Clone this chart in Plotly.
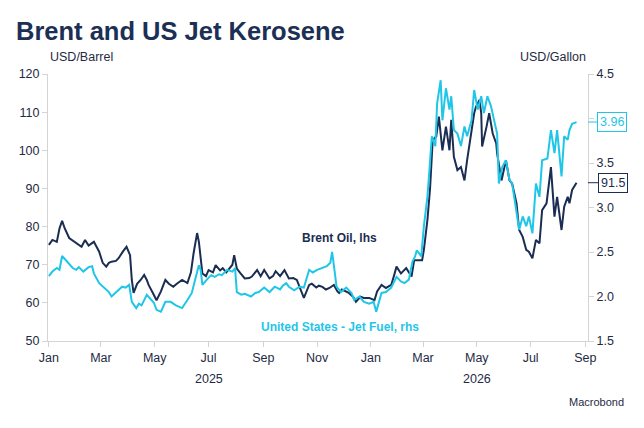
import plotly.graph_objects as go

navy = "#1b2d52"
cyan = "#1fc6e8"
axis_grey = "#d4d4d4"
font_family = "Liberation Sans, Arial, sans-serif"

brent_dates = [
    "2025-01-01", "2025-01-05", "2025-01-10", "2025-01-13", "2025-01-16", "2025-01-19",
    "2025-01-24", "2025-01-27", "2025-02-02", "2025-02-07", "2025-02-11", "2025-02-15",
    "2025-02-21", "2025-02-27", "2025-03-03", "2025-03-07", "2025-03-10", "2025-03-13",
    "2025-03-18", "2025-03-21", "2025-03-26", "2025-03-30", "2025-04-03", "2025-04-05",
    "2025-04-07", "2025-04-11", "2025-04-15", "2025-04-19", "2025-04-22", "2025-04-24",
    "2025-04-29", "2025-05-03", "2025-05-08", "2025-05-13", "2025-05-17", "2025-05-22",
    "2025-05-26", "2025-06-01", "2025-06-07", "2025-06-11", "2025-06-14", "2025-06-18",
    "2025-06-20", "2025-06-24", "2025-06-28", "2025-07-01", "2025-07-06", "2025-07-09",
    "2025-07-14", "2025-07-17", "2025-07-21", "2025-07-24", "2025-07-28", "2025-07-30",
    "2025-08-02", "2025-08-06", "2025-08-11", "2025-08-16", "2025-08-19", "2025-08-25",
    "2025-08-29", "2025-09-02", "2025-09-08", "2025-09-12", "2025-09-15", "2025-09-20",
    "2025-09-25", "2025-09-30", "2025-10-05", "2025-10-09", "2025-10-14", "2025-10-17",
    "2025-10-23", "2025-10-26", "2025-10-31", "2025-11-03", "2025-11-07", "2025-11-11",
    "2025-11-15", "2025-11-20", "2025-11-24", "2025-11-26", "2025-11-29", "2025-12-04",
    "2025-12-07", "2025-12-12", "2025-12-15", "2025-12-20", "2025-12-24", "2025-12-30",
    "2026-01-02", "2026-01-05", "2026-01-08", "2026-01-13", "2026-01-18", "2026-01-24",
    "2026-01-27", "2026-01-30", "2026-02-04", "2026-02-10", "2026-02-16", "2026-02-19",
    "2026-02-25", "2026-02-28", "2026-03-02", "2026-03-06", "2026-03-09", "2026-03-12",
    "2026-03-16", "2026-03-19", "2026-03-23", "2026-03-27", "2026-03-31", "2026-04-02",
    "2026-04-05", "2026-04-09", "2026-04-13", "2026-04-17", "2026-04-20", "2026-04-25",
    "2026-04-28", "2026-04-30", "2026-05-04", "2026-05-06", "2026-05-07", "2026-05-12",
    "2026-05-15", "2026-05-19", "2026-05-23", "2026-05-24", "2026-05-29", "2026-06-03",
    "2026-06-07", "2026-06-10", "2026-06-15", "2026-06-18", "2026-06-22", "2026-06-26",
    "2026-06-29", "2026-07-03", "2026-07-07", "2026-07-11", "2026-07-14", "2026-07-19",
    "2026-07-24", "2026-07-28", "2026-07-31", "2026-08-05", "2026-08-08", "2026-08-12",
    "2026-08-14", "2026-08-17", "2026-08-22",
]
brent_usd_bbl = [
    75.2, 76.5, 76.0, 79.5, 81.5, 79.5,
    77.0, 76.5, 75.5, 74.7, 76.5, 75.0,
    76.0, 73.4, 70.5, 69.5, 70.5, 70.8,
    71.0, 71.7, 73.5, 74.7, 72.5, 66.0,
    62.6, 65.0, 66.0, 67.3, 66.0, 64.7,
    62.5, 60.7, 63.0, 66.0, 65.0, 64.2,
    65.0, 66.0, 65.2, 68.0, 73.0, 78.3,
    76.0, 67.7, 67.0, 68.6, 68.0, 69.9,
    68.5, 69.1, 68.0, 69.0, 70.0, 72.5,
    69.0, 67.8, 66.4, 66.5, 66.9, 68.6,
    67.0, 68.6, 66.4, 67.0, 68.3, 67.0,
    68.6, 66.4, 66.5, 66.0, 63.0, 61.3,
    64.7, 65.0, 64.0, 64.5, 64.2, 63.5,
    63.9, 64.7, 63.0, 62.6, 63.5, 62.9,
    62.6, 61.5, 60.3, 61.6, 61.3, 61.3,
    61.0, 60.7, 63.0, 64.7, 63.9, 64.7,
    67.0, 69.5, 67.7, 69.1, 66.9, 71.2,
    71.2, 71.2, 73.9, 81.7, 90.0, 102.7,
    103.6, 108.8, 100.0, 106.2, 100.0, 108.0,
    98.3, 94.8, 95.6, 92.1, 97.4, 105.3,
    109.7, 111.4, 113.2, 109.7, 101.0, 106.2,
    109.7, 104.4, 101.8, 99.2, 92.1, 97.4,
    92.1, 91.3, 86.1, 79.1, 77.3, 73.9,
    73.4, 71.7, 76.5, 75.6, 84.3, 86.1,
    95.6, 82.6, 87.8, 79.1, 85.2, 87.8,
    86.1, 89.6, 91.5,
]

jet_dates = [
    "2025-01-01", "2025-01-05", "2025-01-10", "2025-01-13", "2025-01-16", "2025-01-19",
    "2025-01-24", "2025-01-28", "2025-02-01", "2025-02-04", "2025-02-09", "2025-02-12",
    "2025-02-15", "2025-02-19", "2025-02-21", "2025-02-27", "2025-03-04", "2025-03-10",
    "2025-03-13", "2025-03-19", "2025-03-25", "2025-03-29", "2025-04-02", "2025-04-05",
    "2025-04-10", "2025-04-13", "2025-04-16", "2025-04-22", "2025-04-26", "2025-04-30",
    "2025-05-03", "2025-05-08", "2025-05-13", "2025-05-19", "2025-05-25", "2025-06-01",
    "2025-06-07", "2025-06-12", "2025-06-16", "2025-06-20", "2025-06-22", "2025-06-24",
    "2025-06-29", "2025-07-04", "2025-07-08", "2025-07-13", "2025-07-16", "2025-07-22",
    "2025-07-28", "2025-07-31", "2025-08-02", "2025-08-07", "2025-08-11", "2025-08-18",
    "2025-08-23", "2025-08-27", "2025-09-02", "2025-09-08", "2025-09-14", "2025-09-20",
    "2025-09-23", "2025-09-27", "2025-09-30", "2025-10-06", "2025-10-12", "2025-10-17",
    "2025-10-23", "2025-10-27", "2025-11-01", "2025-11-07", "2025-11-12", "2025-11-16",
    "2025-11-18", "2025-11-20", "2025-11-23", "2025-11-28", "2025-12-04", "2025-12-10",
    "2025-12-13", "2025-12-19", "2025-12-24", "2025-12-30", "2026-01-04", "2026-01-07",
    "2026-01-13", "2026-01-18", "2026-01-24", "2026-01-30", "2026-02-04", "2026-02-08",
    "2026-02-13", "2026-02-17", "2026-02-20", "2026-02-22", "2026-02-27", "2026-03-02",
    "2026-03-06", "2026-03-08", "2026-03-11", "2026-03-15", "2026-03-17", "2026-03-21",
    "2026-03-23", "2026-03-27", "2026-03-31", "2026-04-02", "2026-04-05", "2026-04-09",
    "2026-04-13", "2026-04-17", "2026-04-20", "2026-04-25", "2026-04-28", "2026-05-02",
    "2026-05-06", "2026-05-09", "2026-05-13", "2026-05-17", "2026-05-21", "2026-05-24",
    "2026-05-26", "2026-05-30", "2026-06-03", "2026-06-07", "2026-06-10", "2026-06-15",
    "2026-06-18", "2026-06-22", "2026-06-26", "2026-06-29", "2026-07-03", "2026-07-07",
    "2026-07-11", "2026-07-14", "2026-07-20", "2026-07-24", "2026-07-28", "2026-07-31",
    "2026-08-05", "2026-08-08", "2026-08-12", "2026-08-14", "2026-08-17", "2026-08-22",
]
jet_usd_gal = [
    2.23, 2.28, 2.32, 2.30, 2.455, 2.42,
    2.37, 2.32, 2.30, 2.33, 2.28, 2.30,
    2.33, 2.34, 2.26, 2.15, 2.10, 2.05,
    2.00, 2.05, 2.11, 2.10, 2.13, 1.94,
    1.87, 1.92, 1.90, 2.02, 1.98, 1.93,
    1.85, 1.83, 1.94, 1.94, 1.90, 1.87,
    1.96, 2.04, 2.20, 2.35, 2.30, 2.13,
    2.19, 2.24, 2.22, 2.25, 2.24, 2.30,
    2.28, 2.32, 2.05, 2.02, 2.03, 2.00,
    2.04, 2.05, 2.10, 2.05, 2.11, 2.08,
    2.12, 2.15, 2.11, 2.07, 2.11, 2.10,
    2.30, 2.27, 2.30, 2.32, 2.34, 2.38,
    2.50, 2.35, 2.11, 2.05, 2.10, 2.04,
    1.96, 2.00, 1.94, 1.92, 1.94, 1.83,
    2.04, 2.05, 2.10, 2.22, 2.17, 2.15,
    2.19, 2.39, 2.45, 2.52, 2.45, 2.79,
    3.12, 3.38, 3.80, 3.69, 4.17, 4.43,
    3.98, 4.34, 4.10, 4.25, 3.87, 3.83,
    3.69, 3.91, 3.80, 3.98, 4.32, 4.10,
    4.25, 4.06, 4.25, 4.14, 3.98, 3.83,
    3.27, 3.46, 3.53, 3.31, 3.27, 2.97,
    2.75, 2.90, 2.79, 2.90, 2.71, 3.27,
    3.12, 3.53, 3.55, 3.87, 3.61, 3.87,
    3.35, 3.80, 3.76, 3.87, 3.94, 3.96,
]

# right axis: the 4.0 label sits under the last-value tag, so it is left blank
rhs_ticks = [1.5, 2.0, 2.5, 3.0, 3.5, 4.0, 4.5]
rhs_labels = ["1.5", "2.0", "2.5", "3.0", "3.5", "", "4.5"]

fig = go.Figure()
fig.add_trace(go.Scatter(x=brent_dates, y=brent_usd_bbl, mode="lines",
                         line=dict(color=navy, width=2), name="Brent Oil, lhs"))
fig.add_trace(go.Scatter(x=jet_dates, y=jet_usd_gal, mode="lines", yaxis="y2",
                         line=dict(color=cyan, width=2), name="United States - Jet Fuel, rhs"))

tick_font = dict(family=font_family, size=12.5, color="#1f2a44")

fig.update_layout(
    width=644, height=428,
    margin=dict(l=48, r=56, t=74, b=87),
    paper_bgcolor="white", plot_bgcolor="white",
    showlegend=False,
    font=dict(family=font_family, color="#1f2a44"),
    title=dict(text="<b>Brent and US Jet Kerosene</b>", x=16 / 644, xanchor="left",
               y=1 - 31 / 428, yanchor="middle",
               font=dict(family=font_family, size=25.5, color="#1c2f55")),
    xaxis=dict(type="date", range=["2024-12-31", "2026-09-04"],
               tick0="2025-01-01", dtick="M2", tickformat="%b",
               showgrid=False, showline=True, linecolor=axis_grey, linewidth=1,
               ticks="outside", ticklen=5, tickcolor=axis_grey, tickfont=tick_font),
    yaxis=dict(range=[50, 120], dtick=10, showgrid=False, zeroline=False,
               showline=True, linecolor=axis_grey, ticks="outside", ticklen=5,
               tickcolor=axis_grey, tickfont=tick_font),
    yaxis2=dict(range=[1.5, 4.5], tickvals=rhs_ticks, ticktext=rhs_labels,
                overlaying="y", side="right",
                showgrid=False, zeroline=False, showline=True, linecolor=axis_grey,
                ticks="outside", ticklen=5, tickcolor=axis_grey, tickfont=tick_font),
)

notes = [
    dict(text="USD/Barrel", xref="paper", yref="paper", x=0, y=1, yshift=17,
         xanchor="left", yanchor="middle", showarrow=False, font=dict(size=12.5)),
    dict(text="USD/Gallon", xref="paper", yref="paper", x=1, y=1, yshift=17,
         xanchor="right", yanchor="middle", showarrow=False, font=dict(size=12.5)),
    dict(text="2025", xref="x", yref="paper", x="2025-07-01", y=0, yshift=-38,
         yanchor="middle", showarrow=False, font=dict(size=12.5)),
    dict(text="2026", xref="x", yref="paper", x="2026-05-01", y=0, yshift=-38,
         yanchor="middle", showarrow=False, font=dict(size=12.5)),
    dict(text="<b>Brent Oil, lhs</b>", xref="paper", yref="paper", x=0.54, y=0.386,
         xanchor="center", yanchor="middle", showarrow=False, font=dict(size=12, color=navy)),
    dict(text="<b>United States - Jet Fuel, rhs</b>", xref="paper", yref="paper",
         x=0.54, y=0.052, xanchor="center", yanchor="middle", showarrow=False,
         font=dict(size=12, color=cyan)),
    dict(text="Macrobond", xref="paper", yref="paper", x=1, y=0, xshift=38, yshift=-61,
         xanchor="right", yanchor="middle", showarrow=False, font=dict(size=11)),
    dict(text=f"{jet_usd_gal[-1]:.2f}", xref="paper", yref="y2", x=1, y=jet_usd_gal[-1],
         showarrow=True, ax=24, ay=0, arrowhead=0, arrowwidth=1, arrowcolor=cyan,
         bordercolor=cyan, borderwidth=1, borderpad=2, bgcolor="white",
         font=dict(size=12.5, color=cyan)),
    dict(text=f"{brent_usd_bbl[-1]:.1f}", xref="paper", yref="y", x=1, y=brent_usd_bbl[-1],
         showarrow=True, ax=25, ay=0, arrowhead=0, arrowwidth=1, arrowcolor=navy,
         bordercolor=navy, borderwidth=1, borderpad=2, bgcolor="white",
         font=dict(size=12.5, color=navy)),
]
fig.update_layout(annotations=notes)

# drop the page's default 8px body margin so the figure sits at the window corner
fig.write_html("out.html", config={"displayModeBar": False},
               post_script="document.body.style.margin = '0px';")
